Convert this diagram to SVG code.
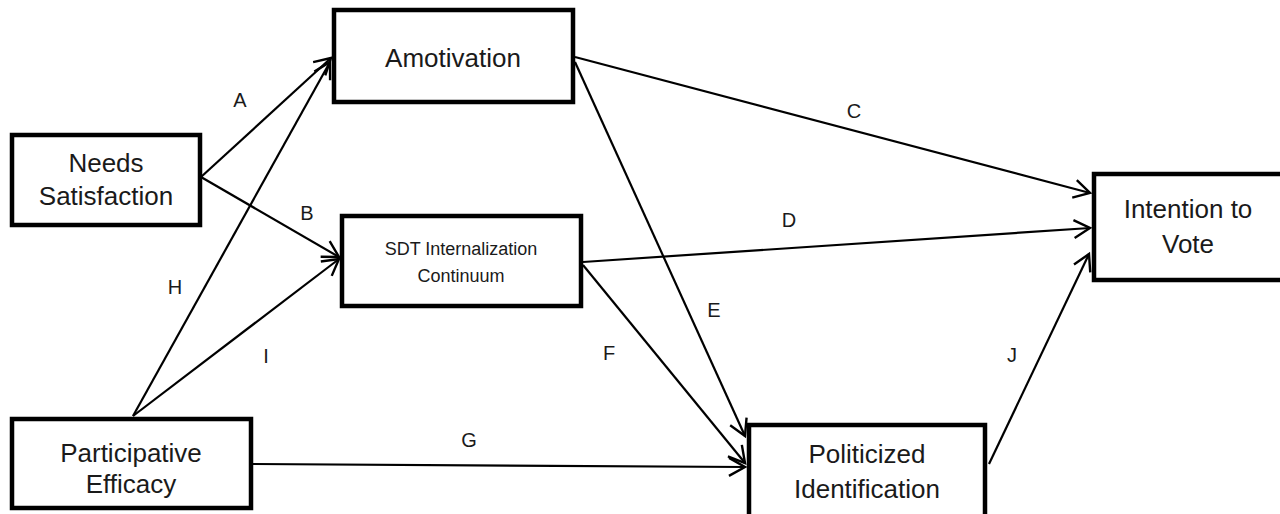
<svg xmlns="http://www.w3.org/2000/svg" width="1280" height="514" viewBox="0 0 1280 514">
  <style>
    .box { fill: #fff; stroke: #000; stroke-width: 4.5; }
    .t { font-family: "Liberation Sans", Arial, sans-serif; font-size: 26px; fill: #1a1a1a; text-anchor: middle; }
    .ts { font-family: "Liberation Sans", Arial, sans-serif; font-size: 18px; fill: #1a1a1a; text-anchor: middle; }
    .lbl { font-family: "Liberation Sans", Arial, sans-serif; font-size: 20px; fill: #1a1a1a; text-anchor: middle; }
    .c { fill: none; stroke: #000; stroke-width: 2.2; marker-end: url(#arr); }
  </style>
  <defs>
    <marker id="arr" markerUnits="userSpaceOnUse" viewBox="-20 -12 24 24" refX="0" refY="0" markerWidth="24" markerHeight="24" orient="auto" overflow="visible">
      <path d="M-16,-9 L0,0 L-16,9" fill="none" stroke="#000" stroke-width="2.4" stroke-linejoin="miter"/>
    </marker>
  </defs>
  <rect width="1280" height="514" fill="#fff"/>

  <g id="connectors">
    <path class="c" d="M201,177 L331,58"/>
    <path class="c" d="M201,177 L339,257"/>
    <path class="c" d="M133,416 L330,62"/>
    <path class="c" d="M133,416 L339,259"/>
    <path class="c" d="M575,57 L1090,193"/>
    <path class="c" d="M583,262 L1090,228"/>
    <path class="c" d="M575,62 L745,436"/>
    <path class="c" d="M583,265 L745,463"/>
    <path class="c" d="M253,464 L745,467"/>
    <path class="c" d="M989,464 L1089,254"/>
  </g>

  <g id="labels">
    <text class="lbl" x="240" y="107">A</text>
    <text class="lbl" x="307" y="220">B</text>
    <text class="lbl" x="854" y="118">C</text>
    <text class="lbl" x="789" y="227">D</text>
    <text class="lbl" x="714" y="317">E</text>
    <text class="lbl" x="609" y="360">F</text>
    <text class="lbl" x="469" y="447">G</text>
    <text class="lbl" x="175" y="294">H</text>
    <text class="lbl" x="266" y="363">I</text>
    <text class="lbl" x="1012" y="362">J</text>
  </g>

  <g id="amotivation">
    <rect class="box" x="334" y="10" width="239" height="92"/>
    <text class="t" x="453" y="67">Amotivation</text>
  </g>
  <g id="needs-satisfaction">
    <rect class="box" x="12" y="135" width="188" height="90"/>
    <text class="t" x="106" y="172">Needs</text>
    <text class="t" x="106" y="205">Satisfaction</text>
  </g>
  <g id="sdt-internalization">
    <rect class="box" x="342" y="216" width="239" height="90"/>
    <text class="ts" x="461" y="255">SDT Internalization</text>
    <text class="ts" x="461" y="282">Continuum</text>
  </g>
  <g id="intention-to-vote">
    <rect class="box" x="1094" y="174" width="210" height="106"/>
    <text class="t" x="1188" y="218">Intention to</text>
    <text class="t" x="1188" y="253">Vote</text>
  </g>
  <g id="participative-efficacy">
    <rect class="box" x="12" y="419" width="239" height="89"/>
    <text class="t" x="131" y="462">Participative</text>
    <text class="t" x="131" y="493">Efficacy</text>
  </g>
  <g id="politicized-identification">
    <rect class="box" x="749" y="425" width="236" height="110"/>
    <text class="t" x="867" y="463">Politicized</text>
    <text class="t" x="867" y="498">Identification</text>
  </g>
</svg>
